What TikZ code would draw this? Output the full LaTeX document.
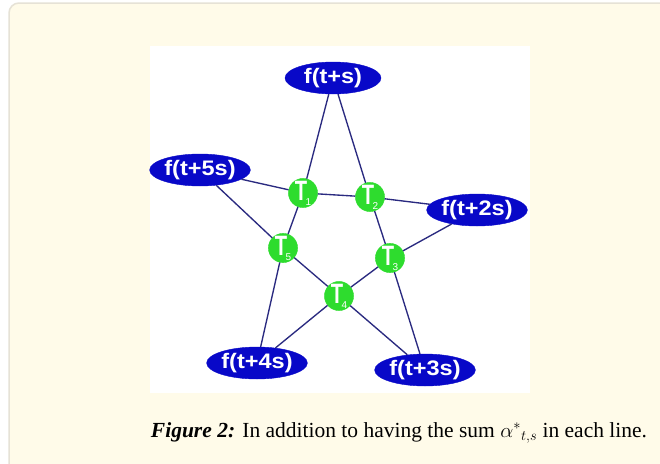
\documentclass[tikz,border=0pt]{standalone}
\usepackage{fontspec}
\setmainfont{Liberation Serif}
\newfontfamily\nodefont{Liberation Sans}
\usetikzlibrary{shapes.geometric}
\definecolor{panelbg}{HTML}{FFFBE9}
\definecolor{panelrule}{HTML}{E6E2D6}
\definecolor{fblue}{HTML}{0808C8}
\definecolor{tgreen}{HTML}{2EDC2E}
\definecolor{edgec}{HTML}{2A2A80}
\newcommand{\flab}[1]{\scalebox{1.12}[1]{#1}}
\newcommand{\tlab}[1]{\scalebox{0.72}[1]{\bfseries\fontsize{28}{28}\selectfont T}\kern-1.5pt\raisebox{-5pt}{\fontsize{10}{10}\selectfont #1}}
\tikzset{
  fnode/.style={ellipse, fill=fblue, draw=fblue, minimum width=96pt, minimum height=32pt, inner sep=0pt,
    text=white, font=\nodefont\bfseries\fontsize{21}{21}\selectfont},
  tnode/.style={circle, fill=tgreen, draw=tgreen, minimum size=29pt, inner sep=0pt, text=white,
    font=\nodefont},
  edge/.style={draw=edgec, line width=1.35pt},
}
\begin{document}
\begin{tikzpicture}[x=1pt,y=-1pt]
\useasboundingbox (0,0) rectangle (660,463);
\fill[white] (0,0) rectangle (660,463);
\draw[panelrule, line width=1.5pt, fill=panelbg, rounded corners=10pt] (9,3) rectangle (700,520);
\fill[white] (150,46) rectangle (530,393);
\node[fnode] (fs) at (333,78) {\flab{f(t+s)}};
\node[fnode] (f5) at (200,170) {\flab{f(t+5s)}};
\node[fnode] (f2) at (477,210) {\flab{f(t+2s)}};
\node[fnode] (f4) at (257,363) {\flab{f(t+4s)}};
\node[fnode] (f3) at (425,370) {\flab{f(t+3s)}};
\node[tnode] (t1) at (303,193) {\tlab{1}};
\node[tnode] (t2) at (370,197) {\tlab{2}};
\node[tnode] (t3) at (390,258) {\tlab{3}};
\node[tnode] (t4) at (339,296) {\tlab{4}};
\node[tnode] (t5) at (283,248) {\tlab{5}};
\draw[edge] (fs) -- (t1);
\draw[edge] (fs) -- (t2);
\draw[edge] (f5) -- (t1);
\draw[edge] (t1) -- (t2);
\draw[edge] (t2) -- (f2);
\draw[edge] (f5) -- (t5);
\draw[edge] (t5) -- (t4);
\draw[edge] (t4) -- (f3);
\draw[edge] (t1) -- (t5);
\draw[edge] (t5) -- (f4);
\draw[edge] (t2) -- (t3);
\draw[edge] (t3) -- (f3);
\draw[edge] (f2) -- (t3);
\draw[edge] (t3) -- (t4);
\draw[edge] (t4) -- (f4);
\node[anchor=base, font=\fontsize{21.5}{21.5}\selectfont, inner sep=0pt] (cap) at (399,437)
  {\textbf{\textit{Figure 2:}} In addition to having the sum $\alpha^{*}{}_{t,s}$ in each line.};
\end{tikzpicture}
\end{document}
